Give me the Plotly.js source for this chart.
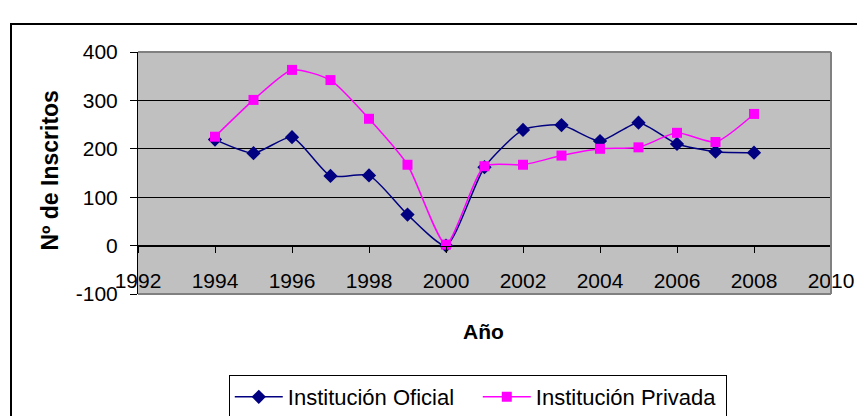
<!DOCTYPE html>
<html>
<head>
<meta charset="utf-8">
<script src="https://cdn.plot.ly/plotly-3.0.1.min.js"></script>
<style>
  html, body { margin: 0; padding: 0; background: #ffffff; overflow: hidden; }
  #frame { position: absolute; left: 10px; top: 23px; width: 900px; height: 500px; border: 2px solid #000; box-sizing: border-box; }
  #chart { position: absolute; left: 0; top: 0; width: 857px; height: 416px; }
</style>
</head>
<body>
<div id="frame"></div>
<div id="chart"></div>
<script>
const years = [1994, 1995, 1996, 1997, 1998, 1999, 2000, 2001, 2002, 2003, 2004, 2005, 2006, 2007, 2008];
const oficial = [219, 191, 224, 144, 145, 64, 0, 162, 239, 249, 216, 254, 210, 194, 192];
const privada = [225, 301, 363, 342, 262, 167, 2, 164, 167, 186, 200, 203, 233, 214, 272];
const seriesNames = ["Institución Oficial", "Institución Privada"];
const yTickVals = [-100, 0, 100, 200, 300, 400];
const yTickText = ["-100", "0", "100", "200", "300", "400"];
const xTitle = "Año";
const yTitle = "Nº de Inscritos";

const FONT = "Liberation Sans, Arial, sans-serif";

const traces = [
  {
    x: years, y: oficial, name: seriesNames[0], type: "scatter", mode: "lines+markers",
    line: { color: "#000080", width: 1.5, shape: "spline", smoothing: 0.6 },
    marker: { symbol: "diamond", size: 11, color: "#000080" }
  },
  {
    x: years, y: privada, name: seriesNames[1], type: "scatter", mode: "lines+markers",
    line: { color: "#FF00FF", width: 1.5, shape: "spline", smoothing: 0.6 },
    marker: { symbol: "square", size: 10, color: "#FF00FF" }
  }
];

const layout = {
  width: 857, height: 416,
  margin: { l: 138, r: 26, t: 52, b: 122, autoexpand: false },
  paper_bgcolor: "rgba(0,0,0,0)",
  plot_bgcolor: "#C0C0C0",
  font: { family: FONT, color: "#000", size: 21 },
  showlegend: true,
  xaxis: {
    range: [1992, 2010], tick0: 1992, dtick: 2,
    anchor: "free", position: 0.2,
    showgrid: false, zeroline: false,
    showline: true, linecolor: "#000", linewidth: 1,
    ticks: "outside", ticklen: 6, tickcolor: "#000", tickwidth: 1,
    ticklabelstandoff: 10,
    automargin: false,
    tickfont: { family: FONT, size: 21, color: "#000" }
  },
  yaxis: {
    range: [-100, 400], tickmode: "array", tickvals: yTickVals, ticktext: yTickText,
    showgrid: true, gridcolor: "#000", gridwidth: 1,
    zeroline: false,
    showline: true, linecolor: "#000", linewidth: 1,
    ticks: "outside", ticklen: 7, tickcolor: "#000", tickwidth: 1,
    ticklabelstandoff: 8,
    automargin: false,
    tickfont: { family: FONT, size: 21, color: "#000" }
  },
  legend: {
    orientation: "h", x: 0.131, y: -0.335, xanchor: "left", yanchor: "top",
    bgcolor: "#fff", bordercolor: "#000", borderwidth: 1,
    itemwidth: 48, entrywidth: 185, entrywidthmode: "pixels",
    font: { family: FONT, size: 22, color: "#000" }
  },
  shapes: [
    { type: "line", xref: "paper", yref: "paper", x0: 0, x1: 1, y0: 1, y1: 1, line: { color: "#808080", width: 2 } },
    { type: "line", xref: "paper", yref: "paper", x0: 1, x1: 1, y0: 0, y1: 1, line: { color: "#808080", width: 2 } },
    { type: "line", xref: "paper", yref: "paper", x0: 0, x1: 1, y0: 0, y1: 0, line: { color: "#808080", width: 2 } }
  ],
  annotations: [
    { text: "<b>" + xTitle + "</b>", xref: "paper", yref: "paper", x: 0.498, y: -0.157,
      xanchor: "center", yanchor: "middle", showarrow: false, font: { family: FONT, size: 21, color: "#000" } },
    { text: "<b>" + yTitle + "</b>", xref: "paper", yref: "paper", x: -0.127, y: 0.514,
      xanchor: "center", yanchor: "middle", textangle: -90, showarrow: false, font: { family: FONT, size: 23, color: "#000" } }
  ]
};

Plotly.newPlot("chart", traces, layout, { displayModeBar: false, staticPlot: true });
</script>
</body>
</html>
